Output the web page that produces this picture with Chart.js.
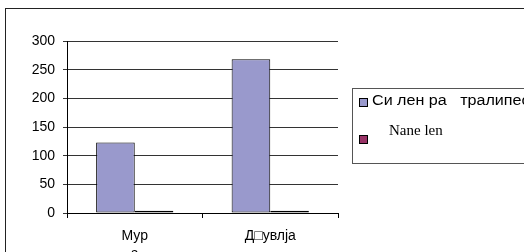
<!DOCTYPE html>
<html>
<head>
<meta charset="utf-8">
<script src="https://cdn.jsdelivr.net/npm/chart.js@4/dist/chart.umd.min.js"></script>
<style>
  html, body { margin: 0; padding: 0; background: #fff; overflow: hidden; }
  #wrap { position: relative; width: 524px; height: 252px; }
  #frame { position: absolute; left: 5px; top: 8px; width: 540px; height: 260px; border: 1px solid #222; box-sizing: border-box; }
  #legend { position: absolute; left: 352px; top: 88px; width: 200px; height: 76px; border: 1px solid #555; box-sizing: border-box; overflow: hidden; }
  .sw { position: absolute; width: 7px; height: 7px; border: 1px solid #000; }
  .lt { position: absolute; white-space: pre; color: #000; transform-origin: left top; }
</style>
</head>
<body>
<div id="wrap">
  <canvas id="grafico" width="524" height="252"></canvas>
  <div id="frame"></div>
  <div id="legend">
    <div class="sw" style="left:6px; top:9px; background:#9999cc;"></div>
    <div class="lt" style="left:19px; top:3px; font:14px 'Liberation Sans', Arial, sans-serif; transform:scaleX(1.15);" id="leg0"></div>
    <div class="sw" style="left:6px; top:46px; background:#993366;"></div>
    <div class="lt" style="left:36px; top:33px; font:15px 'Liberation Serif', 'Times New Roman', serif;" id="leg1"></div>
  </div>
</div>
<script>
const kategorije = [['Мур', 'а'], 'Д□увлја'];
const serije = ['Си лен ра   тралипео', 'Nane len'];
const vrednostiPlava = [123, 268];
const vrednostiCrvena = [4, 4];
const yTicks = [0, 50, 100, 150, 200, 250, 300];

document.getElementById('leg0').textContent = serije[0];
document.getElementById('leg1').textContent = serije[1];

const ctx = document.getElementById('grafico').getContext('2d');
new Chart(ctx, {
    type: 'bar',
    data: {
        labels: kategorije,
        datasets: [{
            label: serije[0],
            data: vrednostiPlava,
            backgroundColor: '#9999cc',
            borderColor: '#000',
            borderWidth: 1,
            borderSkipped: false
        }, {
            label: serije[1],
            data: vrednostiCrvena,
            backgroundColor: '#993366',
            borderColor: '#000',
            borderWidth: 1,
            borderSkipped: false
        }]
    },
    options: {
        responsive: false,
        animation: false,
        layout: { padding: { top: 41, right: 186, left: 0, bottom: 0 } },
        categoryPercentage: 0.57,
        barPercentage: 1,
        plugins: { legend: { display: false }, tooltip: { enabled: false } },
        scales: {
            x: {
                offset: true,
                grid: { offset: true, drawOnChartArea: false, drawTicks: true, tickLength: 5, color: '#000' },
                border: { color: '#000' },
                ticks: { color: '#000', padding: 9, maxRotation: 0, font: { family: 'Liberation Sans', size: 14, lineHeight: 1.3 } },
                afterFit: s => { s.height = 39; }
            },
            y: {
                min: 0,
                max: 300,
                afterBuildTicks: s => { s.ticks = yTicks.map(v => ({ value: v })); },
                grid: { color: '#333', tickLength: 4 },
                border: { color: '#000' },
                ticks: { color: '#000', padding: 8, font: { family: 'Liberation Sans', size: 14 } },
                afterFit: s => { s.width = 67; }
            }
        }
    }
});
</script>
</body>
</html>
